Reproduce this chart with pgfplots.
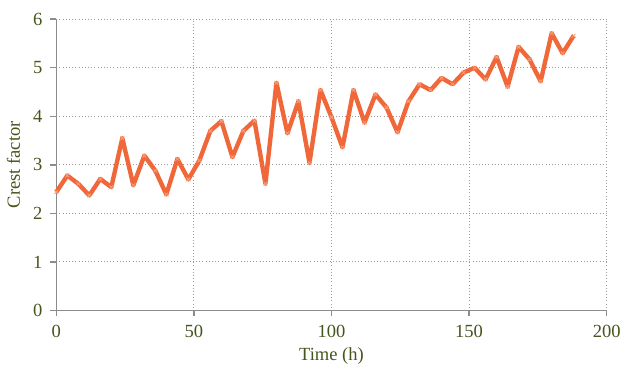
\documentclass[border=0pt]{standalone}
\usepackage{fontspec}
\setmainfont{Liberation Serif}
\usepackage{pgfplots}
\pgfplotsset{compat=1.18}
\definecolor{lineor}{HTML}{F0673A}
\definecolor{markor}{HTML}{F7A07E}
\definecolor{txtgreen}{HTML}{45551C}
\definecolor{axgray}{HTML}{8C8C8C}
\definecolor{gridgray}{HTML}{9A9A9A}
\begin{document}
\begin{tikzpicture}
\begin{axis}[
  scale only axis,
  width=415.7pt, height=220pt,
  xmin=0, xmax=200, ymin=0, ymax=6,
  xtick={0,50,...,200}, ytick={0,1,...,6},
  axis x line*=bottom, axis y line*=left,
  axis line style={draw=axgray, line width=1.1pt},
  tick align=outside,
  major tick length=0pt,
  grid=major,
  major grid style={draw=gridgray, dotted, line width=0.7pt},
  /pgf/number format/assume math mode=true,
  ticklabel style={font=\fontsize{14}{16}\selectfont, text=txtgreen},
  xticklabel style={yshift=-7.5pt},
  yticklabel style={xshift=-7pt},
  label style={font=\fontsize{14}{16}\selectfont, text=txtgreen},
  xlabel={Time (h)}, ylabel={Crest factor},
  xlabel style={yshift=-0.5pt},
  ylabel style={yshift=3pt},
  clip=false,
  after end axis/.code={
    \foreach \t in {0,50,100,150,200}{
      \draw[draw=axgray, line width=1.1pt] (axis cs:\t,0) -- ([yshift=-4.5pt]axis cs:\t,0);
    }
    \foreach \t in {0,1,2,3,4,5,6}{
      \draw[draw=axgray, line width=1.1pt] (axis cs:0,\t) -- ([xshift=-4.5pt]axis cs:0,\t);
    }
  },
]
\addplot[color=lineor, line width=3.3pt, line join=round,
  mark=x, mark size=2pt, mark options={draw=markor, line width=0.6pt}]
coordinates {
(0,2.44) (4,2.78) (8,2.61) (12,2.37) (16,2.71) (20,2.54) (24,3.55) (28,2.58)
(32,3.19) (36,2.88) (40,2.39) (44,3.12) (48,2.70) (52,3.09) (56,3.70) (60,3.90)
(64,3.16) (68,3.70) (72,3.91) (76,2.61) (80,4.69) (84,3.65) (88,4.31) (92,3.04)
(96,4.54) (100,3.98) (104,3.36) (108,4.54) (112,3.87) (116,4.45) (120,4.18) (124,3.67)
(128,4.31) (132,4.66) (136,4.54) (140,4.79) (144,4.66) (148,4.90) (152,5.00) (156,4.76)
(160,5.22) (164,4.61) (168,5.43) (172,5.17) (176,4.72) (180,5.71) (184,5.30) (188,5.66)
};
\end{axis}
\useasboundingbox ([shift={(-42.5pt,-39.2pt)}]current axis.south west) rectangle ([shift={(10.5pt,14.5pt)}]current axis.north east);
\end{tikzpicture}
\end{document}
